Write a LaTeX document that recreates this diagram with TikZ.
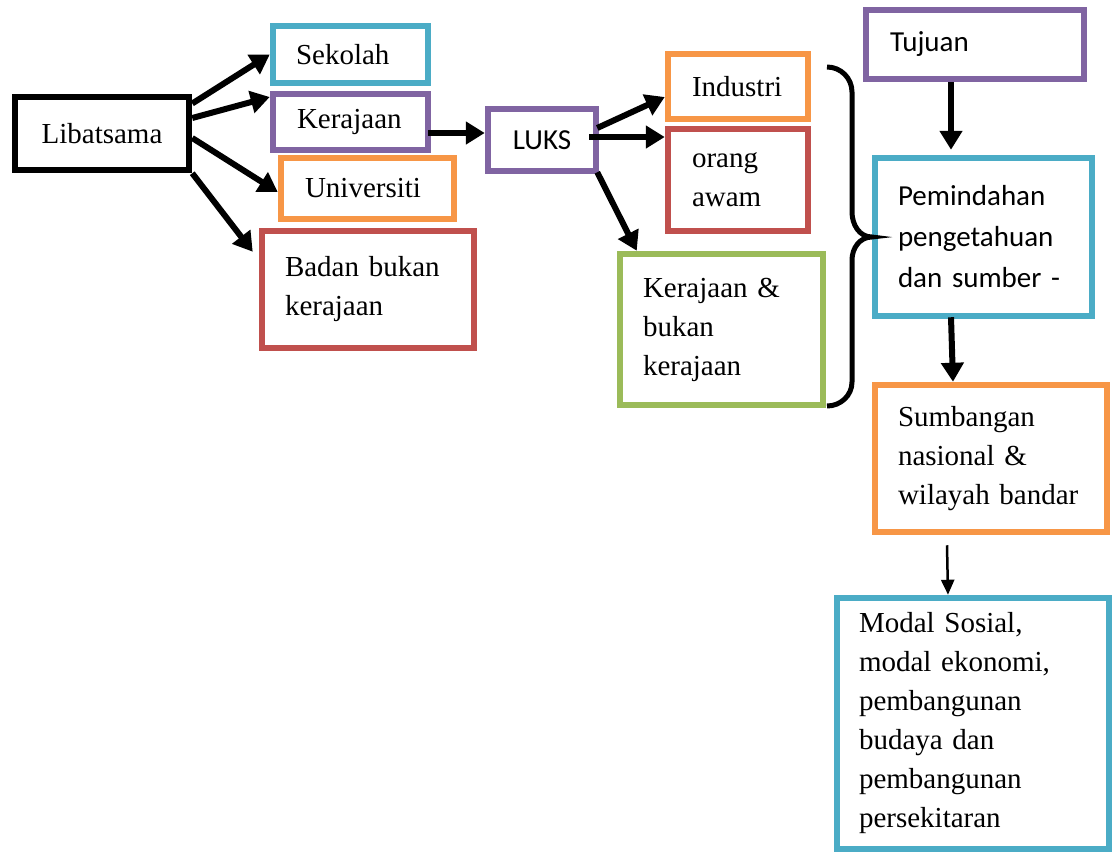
\documentclass[tikz,border=0pt]{standalone}
\usepackage{fontspec}
\setmainfont{Liberation Serif}
\newfontfamily\calibri{Carlito}
\usetikzlibrary{arrows.meta}
\definecolor{biru}{HTML}{4BACC6}
\definecolor{ungu}{HTML}{8064A2}
\definecolor{oren}{HTML}{F79646}
\definecolor{merah}{HTML}{C0504D}
\definecolor{hijau}{HTML}{9BBB59}
\begin{document}
\begin{tikzpicture}[x=1pt,y=-1pt,
   kotak/.style={draw, line width=6.5pt, inner sep=0pt, align=left,
      font=\fontsize{29}{39}\selectfont},
   kotakc/.style={kotak, font=\calibri\fontsize{29}{41}\selectfont},
   panah/.style={line width=6pt, -{Triangle[length=19pt,width=22pt]}},
   panahkecil/.style={line width=2.5pt, -{Triangle[length=15pt,width=13pt]}}]
   \useasboundingbox (0,0) rectangle (1112,854);

   % kotak kiri
   \node[kotak, draw=black, minimum width=174pt, minimum height=73pt]
      (lib) at (102,133.5) {Libatsama};
   \node[kotak, draw=biru, minimum width=155pt, minimum height=57pt, text width=109pt]
      (sekolah) at (350.5,54.5) {Sekolah};
   \node[kotak, draw=ungu, minimum width=155pt, minimum height=56pt, text width=107pt]
      (kerajaan) at (350.5,122) {Kerajaan};
   \node[kotak, draw=oren, minimum width=173pt, minimum height=61pt, text width=125pt]
      (universiti) at (367.5,188.5) {Universiti};
   \node[kotak, draw=merah, minimum width=212pt, minimum height=117pt, text width=166pt]
      (badan) at (368,289.5) {Badan bukan\\kerajaan};

   % kotak tengah
   \node[kotakc, draw=ungu, minimum width=108pt, minimum height=62pt, align=center]
      (luks) at (542,140) {LUKS};
   \node[kotak, draw=oren, minimum width=140pt, minimum height=65pt, text width=92pt]
      (industri) at (738,86.5) {Industri};
   \node[kotak, draw=merah, minimum width=140pt, minimum height=102pt, text width=92pt]
      (orang) at (738,180) {orang\\awam};
   \node[kotak, draw=hijau, minimum width=203pt, minimum height=151pt, text width=157pt]
      (kerbukan) at (721.5,329.5) {Kerajaan \&\\bukan\\kerajaan};

   % kotak kanan
   \node[kotakc, draw=ungu, minimum width=218pt, minimum height=69pt, text width=170pt]
      (tujuan) at (975,44.5) {Tujuan};
   \node[kotakc, draw=biru, minimum width=217pt, minimum height=158pt, text width=171pt]
      (pemindahan) at (983.5,237) {Pemindahan\\pengetahuan\\dan sumber -};
   \node[kotak, draw=oren, minimum width=232pt, minimum height=147pt, text width=186pt]
      (sumbangan) at (991,458.5) {Sumbangan\\nasional \&\\wilayah bandar};
   \node[kotak, draw=biru, minimum width=272pt, minimum height=251pt, text width=228pt]
      (modal) at (973,723.5) {Modal Sosial,\\modal ekonomi,\\pembangunan\\budaya dan\\pembangunan\\persekitaran};

   % anak panah
   \draw[panah] ([yshift=30pt]lib.east) -- (sekolah.west);
   \draw[panah] ([yshift=15.5pt]lib.east) -- ([yshift=25pt]kerajaan.west);
   \draw[panah] ([yshift=-4.5pt]lib.east) -- ([yshift=-3.5pt]universiti.west);
   \draw[panah] (lib.south east) -- ([xshift=-6pt,yshift=-24pt]badan.north west);
   \draw[panah] ([xshift=-3pt,yshift=-11pt]kerajaan.east) -- ([yshift=7pt]luks.west);
   \draw[panah] ([xshift=-2pt,yshift=12pt]luks.east) -- ([yshift=-10.5pt]industri.west);
   \draw[panah] ([xshift=-10pt,yshift=3pt]luks.east) -- ([yshift=43pt]orang.west);
   \draw[panah] ([xshift=-2pt,yshift=2pt]luks.south east) -- ([xshift=20pt]kerbukan.north west);
   \draw[panah] ([xshift=-24pt]tujuan.south) -- ([xshift=-32.5pt,yshift=5pt]pemindahan.north);
   \draw[panah] ([xshift=-32.5pt,yshift=2pt]pemindahan.south) -- ([xshift=-38pt]sumbangan.north);
   \draw[panahkecil] ([xshift=-44pt,yshift=-10pt]sumbangan.south) -- ([xshift=-25pt]modal.north);

   % kurungan
   \draw[line width=5pt] (827,67) to[out=0,in=90] (852,92) -- (852,212)
      to[out=-90,in=180] (pemindahan.west)
      to[out=180,in=90] (852,260) -- (852,382) to[out=-90,in=0] (827,406);

\end{tikzpicture}
\end{document}
